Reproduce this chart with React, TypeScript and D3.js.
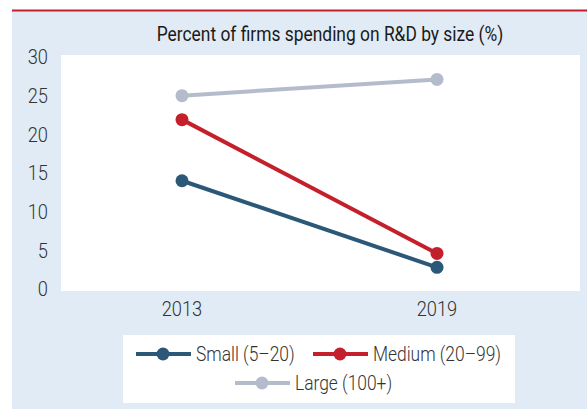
import React from "react";
import * as d3 from "d3";

const years = ["2013", "2019"];
const yTicks = [0, 5, 10, 15, 20, 25, 30];
const seriesNames = ["Small (5–20)", "Medium (20–99)", "Large (100+)"];
const smallValues = [14.0, 2.8];
const mediumValues = [21.9, 4.6];
const largeValues = [25.0, 27.1];
const seriesColors = ["#2b5878", "#c4202b", "#b4bccb"];
const title = "Percent of firms spending on R&D by size (%)";

const FONT = "Roboto, 'Liberation Sans', sans-serif";
const SX = 0.87;

function CText(props: { x: number; y: number; size: number; anchor?: string; children: string; fill?: string; weight?: number }) {
  const { x, y, size, anchor = "start", children, fill = "#333", weight = 300 } = props;
  return (
    <g transform={`translate(${x},${y}) scale(${SX},1)`}>
      <text x={0} y={0} dy="0.35em" textAnchor={anchor as any} fontFamily={FONT} fontSize={size} fontWeight={weight} fill={fill}>{children}</text>
    </g>
  );
}

export default function App() {
  const W = 587, H = 409;
  const plot = { x0: 61, x1: 580, y0: 55, y1: 291 };
  const x = d3.scalePoint<string>().domain(years).range([182, 437]);
  const y = d3.scaleLinear().domain([0, 30]).range([289, 57]);
  const line = d3.line<number>().x((_, i) => x(years[i]) as number).y((d) => y(d));
  const all = [smallValues, mediumValues, largeValues];
  const drawOrder = [2, 1, 0];

  const legend = [
    { i: 0, lx: 136, ly: 354 },
    { i: 1, lx: 313, ly: 354 },
    { i: 2, lx: 235, ly: 383 },
  ];

  return (
    <svg width={W} height={H} style={{ position: "absolute", left: 0, top: 0 }}>
      <rect x={0} y={0} width={W} height={H} fill="#ffffff" />
      <rect x={12} y={11} width={W - 12} height={H - 11} fill="#e1ebf5" />
      <rect x={12} y={9.5} width={W - 12} height={2} fill="#c4202b" />
      <rect x={plot.x0} y={plot.y0} width={plot.x1 - plot.x0} height={plot.y1 - plot.y0} fill="#ffffff" />
      <CText x={330} y={33.5} size={20} anchor="middle" fill="#1a1a1a" weight={400}>{title}</CText>
      {yTicks.map((t) => (
        <CText key={t} x={48} y={y(t)} size={21} anchor="end">{String(t)}</CText>
      ))}
      {years.map((yr) => (
        <CText key={yr} x={x(yr) as number} y={309} size={21} anchor="middle">{yr}</CText>
      ))}
      {drawOrder.map((si) => (
        <g key={si}>
          <path d={line(all[si]) || ""} fill="none" stroke={seriesColors[si]} strokeWidth={4} />
          {all[si].map((v, j) => (
            <circle key={j} cx={x(years[j])} cy={y(v)} r={6.5} fill={seriesColors[si]} />
          ))}
        </g>
      ))}
      <rect x={123} y={335} width={392} height={68} fill="#ffffff" />
      {legend.map(({ i, lx, ly }) => (
        <g key={i}>
          <line x1={lx} x2={lx + 55} y1={ly} y2={ly} stroke={seriesColors[i]} strokeWidth={4} />
          <circle cx={lx + 27} cy={ly} r={6.5} fill={seriesColors[i]} />
          <CText x={lx + 60} y={ly} size={20}>{seriesNames[i]}</CText>
        </g>
      ))}
    </svg>
  );
}
